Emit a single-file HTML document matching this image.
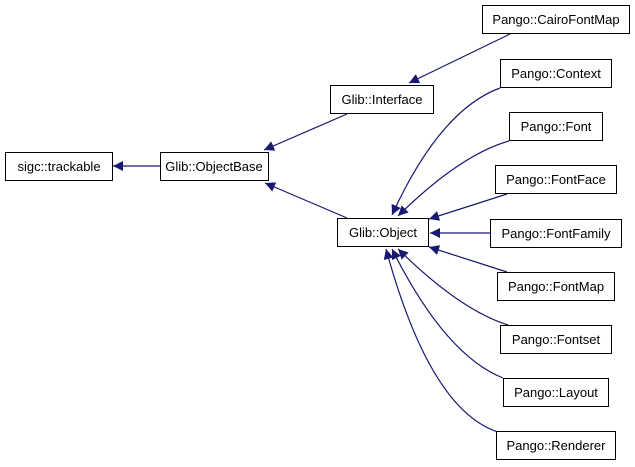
<!DOCTYPE html>
<html><head><meta charset="utf-8"><style>
html,body{margin:0;padding:0;background:#fff;width:635px;height:467px;overflow:hidden}
svg text{font-family:"Liberation Sans",Helvetica,sans-serif;font-size:13px;fill:#000}
</style></head><body>
<svg width="635" height="467" viewBox="0 0 635 467" xmlns="http://www.w3.org/2000/svg">
<defs>
<marker id="a" viewBox="0 0 10 10" refX="10" refY="5" markerWidth="14" markerHeight="10" markerUnits="userSpaceOnUse" orient="auto">
<path d="M0,0 L10,5 L0,10 z" fill="#191970"/>
</marker>
</defs>
<g fill="none" stroke="#191970" stroke-width="1.2" marker-end="url(#a)">
<path d="M160,166 L113,166"/>
<path d="M347,114 L264,150"/>
<path d="M347,218 L265,183"/>
<path d="M510,34 L409,83"/>
<path d="M500,88 Q440,110 392,215"/>
<path d="M509,141 Q460,155 398,216"/>
<path d="M507,194 L429,219"/>
<path d="M490,233 L430,233"/>
<path d="M507,272 L429,247"/>
<path d="M508,325 Q460,310 398,249"/>
<path d="M503,378 Q445,355 392,249"/>
<path d="M498,432 Q430,410 386,249"/>
</g>
<g fill="#fff" stroke="#000" stroke-width="1">
<rect x="5.5" y="152.5" width="107" height="28"/>
<rect x="160.5" y="152.5" width="108" height="28"/>
<rect x="330.5" y="85.5" width="103" height="28"/>
<rect x="337.5" y="218.5" width="91" height="28"/>
<rect x="482.5" y="5.5" width="147" height="28"/>
<rect x="500.5" y="59.5" width="111" height="28"/>
<rect x="509.5" y="112.5" width="93" height="28"/>
<rect x="495.5" y="165.5" width="121" height="28"/>
<rect x="490.5" y="219.5" width="131" height="28"/>
<rect x="497.5" y="272.5" width="117" height="28"/>
<rect x="500.5" y="325.5" width="111" height="28"/>
<rect x="503.5" y="378.5" width="105" height="28"/>
<rect x="496.5" y="431.5" width="119" height="28"/>
</g>
<g text-anchor="middle">
<text x="59" y="171">sigc::trackable</text>
<text x="214" y="171">Glib::ObjectBase</text>
<text x="382" y="104">Glib::Interface</text>
<text x="383" y="237">Glib::Object</text>
<text x="556" y="24">Pango::CairoFontMap</text>
<text x="556" y="78">Pango::Context</text>
<text x="556" y="131">Pango::Font</text>
<text x="556" y="184">Pango::FontFace</text>
<text x="556" y="238">Pango::FontFamily</text>
<text x="556" y="291">Pango::FontMap</text>
<text x="556" y="344">Pango::Fontset</text>
<text x="556" y="397">Pango::Layout</text>
<text x="556" y="450">Pango::Renderer</text>
</g>
</svg>
</body></html>
